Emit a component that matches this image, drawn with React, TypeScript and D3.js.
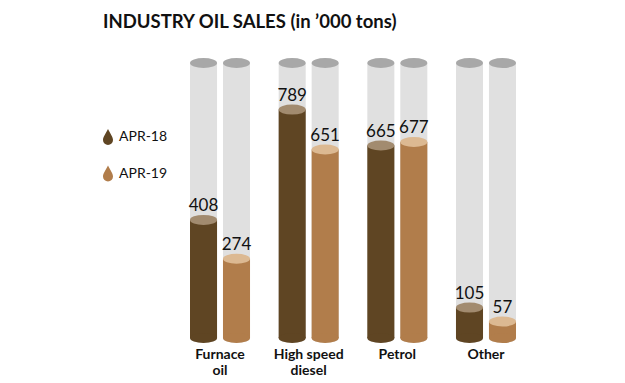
import React from "react";
import * as d3 from "d3";

const categories = ["Furnace oil", "High speed diesel", "Petrol", "Other"];
const categoryLines = [["Furnace", "oil"], ["High speed", "diesel"], ["Petrol"], ["Other"]];
const seriesNames = ["APR-18", "APR-19"];
const apr18 = [408, 789, 665, 105];
const apr19 = [274, 651, 677, 57];
const maxValue = 950;

const bodyColors = ["#5f4523", "#b17d4b"];
const topColors = ["#a28b6f", "#dcb992"];

export default function App() {
  const W = 625, H = 383;
  const groupX = d3.scaleBand().domain(categories).range([190, 516]).paddingInner(0.323);
  const sub = d3.scaleBand().domain(seriesNames).range([0, groupX.bandwidth()]).paddingInner(0.18);
  const y = d3.scaleLinear().domain([0, maxValue]).range([338, 63]);
  const ry = 5;
  const series = [apr18, apr19];
  const font = "Lato, 'Open Sans', sans-serif";
  const dropPath = (cx: number, cy: number) =>
    `M${cx},${cy - 8} C${cx + 2},${cy - 4} ${cx + 5},${cy} ${cx + 5},${cy + 3} A5,5 0 0 1 ${cx - 5},${cy + 3} C${cx - 5},${cy} ${cx - 2},${cy - 4} ${cx},${cy - 8} Z`;
  return (
    <svg width={W} height={H} style={{ position: "absolute", left: 0, top: 0, background: "#fff" }}>
      <text x={103} y={28} fontFamily={font} fontWeight={700} fontSize={18.5} fill="#111">
        INDUSTRY OIL SALES (in ’000 tons)
      </text>
      {seriesNames.map((s, i) => (
        <g key={s}>
          <path d={dropPath(108, 137 + i * 36.5)} fill={bodyColors[i]} />
          <text x={119} y={141 + i * 36.5} fontFamily={font} fontSize={14} fill="#111">{s}</text>
        </g>
      ))}
      {categories.map((c, ci) => (
        <g key={c}>
          {seriesNames.map((s, si) => {
            const x0 = (groupX(c) as number) + (sub(s) as number);
            const w = sub.bandwidth();
            const cx = x0 + w / 2;
            const v = series[si][ci];
            const yt = y(v);
            const yb = y(0);
            const yFull = y(maxValue);
            return (
              <g key={s}>
                <rect x={x0} y={yFull} width={w} height={yb - yFull} fill="#e0e0e0" />
                <ellipse cx={cx} cy={yb} rx={w / 2} ry={ry} fill="#e0e0e0" />
                <ellipse cx={cx} cy={yFull} rx={w / 2} ry={ry} fill="#a8a8a8" />
                <rect x={x0} y={yt} width={w} height={yb - yt} fill={bodyColors[si]} />
                <ellipse cx={cx} cy={yb} rx={w / 2} ry={ry} fill={bodyColors[si]} />
                <ellipse cx={cx} cy={yt} rx={w / 2} ry={ry} fill={topColors[si]} />
                <text x={cx} y={yt - 9} textAnchor="middle" fontFamily={font} fontSize={17} fill="#111">{v}</text>
              </g>
            );
          })}
          {categoryLines[ci].map((line, li) => (
            <text key={li} x={(groupX(c) as number) + groupX.bandwidth() / 2} y={359 + li * 16}
              textAnchor="middle" fontFamily={font} fontWeight={700} fontSize={14} fill="#111">{line}</text>
          ))}
        </g>
      ))}
    </svg>
  );
}
